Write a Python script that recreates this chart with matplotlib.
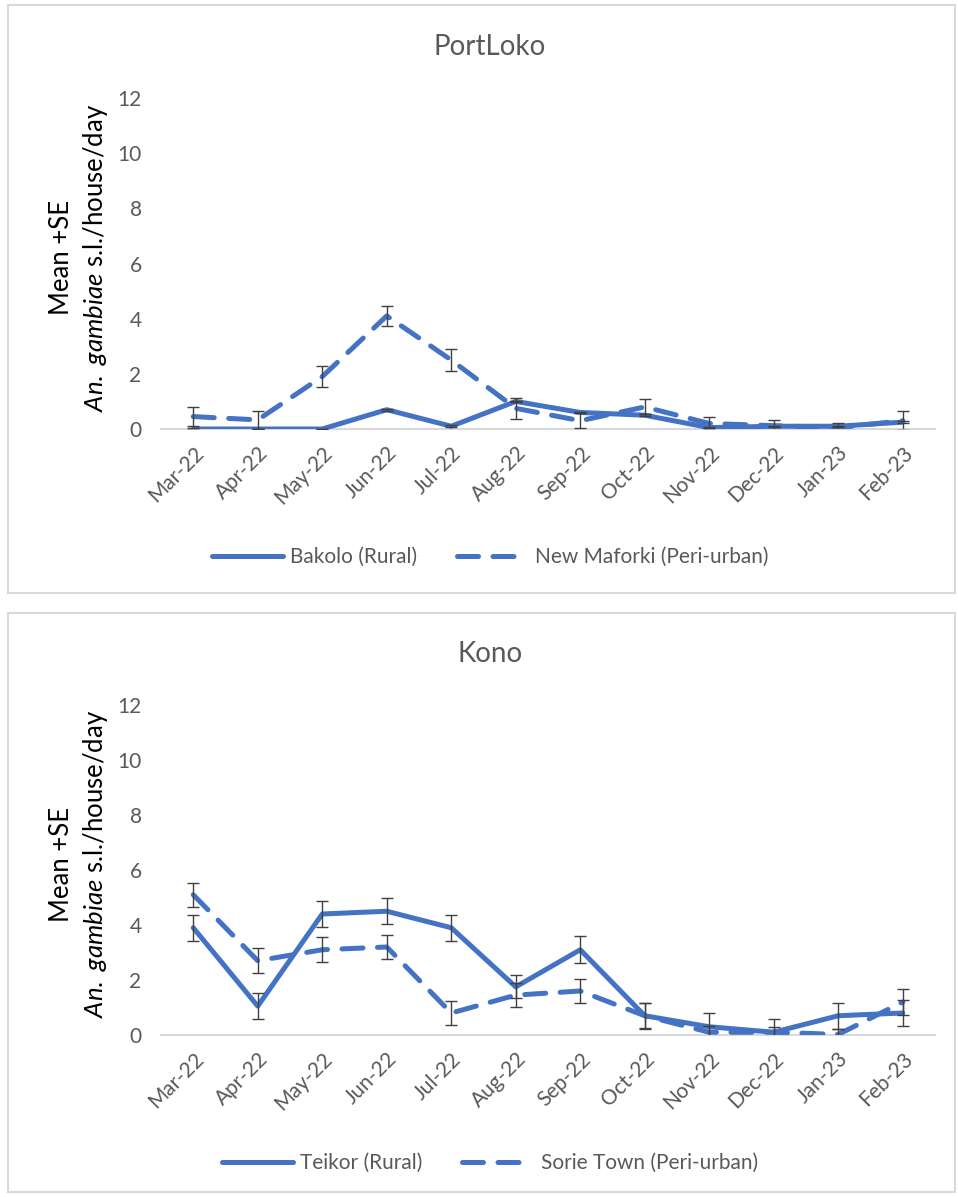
import matplotlib
matplotlib.use("Agg")
import matplotlib.pyplot as plt
from matplotlib.patches import Rectangle
import numpy as np

plt.rcParams['font.family'] = ['Lato', 'DejaVu Sans']
plt.rcParams['mathtext.fontset'] = 'custom'
plt.rcParams['mathtext.rm'] = 'Lato'
plt.rcParams['mathtext.it'] = 'Lato:italic'

months = ["Mar-22", "Apr-22", "May-22", "Jun-22", "Jul-22", "Aug-22",
          "Sep-22", "Oct-22", "Nov-22", "Dec-22", "Jan-23", "Feb-23"]

# PortLoko
bakolo = [0, 0, 0, 0.7, 0.1, 1.0, 0.6, 0.5, 0.05, 0.1, 0.1, 0.25]
bakolo_se = [0.02, 0, 0, 0.03, 0.03, 0.03, 0.03, 0.03, 0.02, 0.02, 0.02, 0.03]
maforki = [0.45, 0.33, 1.9, 4.1, 2.5, 0.75, 0.3, 0.8, 0.2, 0.12, 0.05, 0.3]
maforki_se = [0.35, 0.33, 0.37, 0.35, 0.4, 0.38, 0.28, 0.27, 0.25, 0.2, 0.18, 0.35]

# Kono
teikor = [3.9, 1.05, 4.4, 4.5, 3.9, 1.75, 3.1, 0.7, 0.3, 0.1, 0.7, 0.8]
teikor_se = [0.48, 0.47, 0.47, 0.47, 0.48, 0.42, 0.49, 0.47, 0.5, 0.5, 0.48, 0.48]
sorie = [5.1, 2.7, 3.1, 3.2, 0.8, 1.45, 1.6, 0.7, 0.1, 0.1, 0.02, 1.2]
sorie_se = [0.43, 0.45, 0.45, 0.42, 0.42, 0.43, 0.43, 0.45, 0.22, 0.2, 0.2, 0.47]

blue = "#4472C4"
grey_txt = "#595959"
W, H = 958, 1197

fig = plt.figure(figsize=(W / 100, H / 100), dpi=100)

# panel frames
for (x0, y0, x1, y1) in [(8, 5, 955, 593), (8, 613, 955, 1192)]:
    fig.patches.append(Rectangle((x0 / W, 1 - y1 / H), (x1 - x0) / W, (y1 - y0) / H,
                                 transform=fig.transFigure, fill=False,
                                 edgecolor="#D9D9D9", lw=1.5))


def panel(top_px, bottom_px, title, s1, e1, n1, s2, e2, n2, legend_y):
    ax = fig.add_axes([161 / W, 1 - bottom_px / H, 774 / W, (bottom_px - top_px) / H])
    x = np.arange(len(months))
    l1, = ax.plot(x, s1, color=blue, lw=3.6, solid_joinstyle="round",
                  solid_capstyle="round", zorder=3)
    l2, = ax.plot(x, s2, color=blue, lw=3.6, linestyle=(0, (4.2, 2.9)),
                  dash_capstyle="round", zorder=3)
    ax.errorbar(x, s1, yerr=e1, fmt="none", ecolor="#404040", elinewidth=1,
                capsize=4, capthick=1, zorder=4)
    ax.errorbar(x, s2, yerr=e2, fmt="none", ecolor="#404040", elinewidth=1,
                capsize=4, capthick=1, zorder=4)
    ax.set_xlim(-0.5, 11.5)
    ax.set_ylim(0, 12)
    ax.set_yticks(np.arange(0, 13, 2))
    ax.set_xticks(x)
    ax.set_xticklabels(months, rotation=45, ha="right", rotation_mode="anchor")
    ax.tick_params(length=0, labelsize=15, labelcolor=grey_txt)
    ax.tick_params(axis="y", pad=14)
    ax.tick_params(axis="x", pad=10)
    for sp in ["top", "right", "left"]:
        ax.spines[sp].set_visible(False)
    ax.spines["bottom"].set_color("#D9D9D9")
    ax.spines["bottom"].set_linewidth(1.5)
    ax.patch.set_alpha(0)

    fig.text(490 / W, 1 - (top_px - 51) / H, title, ha="center", va="center",
             fontsize=20, color=grey_txt)
    mid = (top_px + bottom_px) / 2 - 6
    fig.text(62 / W, 1 - mid / H, "Mean +SE", rotation=90, ha="center",
             va="center", fontsize=18.5, color="black")
    fig.text(96 / W, 1 - mid / H, r"$\it{An.\ gambiae}$ s.l./house/day",
             rotation=90, ha="center", va="center", fontsize=18.5, color="black")

    fig.legend([l1, l2], [n1, n2], loc="center", ncol=2,
               bbox_to_anchor=(490 / W, 1 - legend_y / H), frameon=False,
               fontsize=15, labelcolor=grey_txt, handlelength=3.4,
               handletextpad=0.35, columnspacing=1.9)
    return ax


panel(98, 429, "PortLoko", bakolo, bakolo_se, "Bakolo (Rural)",
      maforki, maforki_se, "New Maforki (Peri-urban)", 557)
panel(705, 1035, "Kono", teikor, teikor_se, "Teikor (Rural)",
      sorie, sorie_se, "Sorie Town (Peri-urban)", 1163)

fig.savefig("out.png", dpi=100)
